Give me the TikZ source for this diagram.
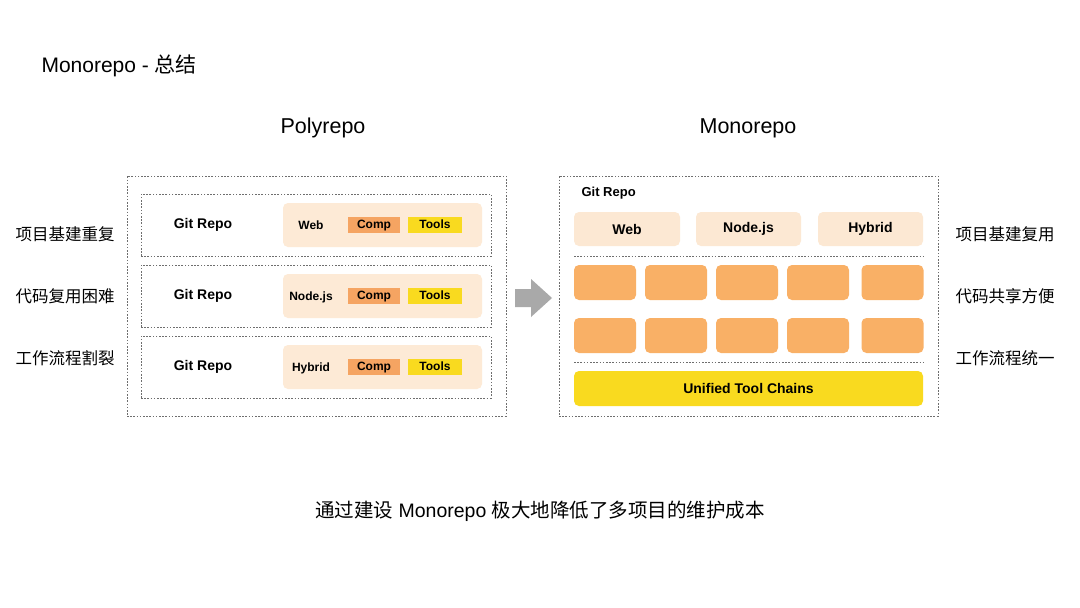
\documentclass[tikz,border=0pt]{standalone}
\usepackage{fontspec}
\setmainfont{Liberation Sans}
\newfontfamily\cjk{Noto Sans CJK SC}
\definecolor{peach}{HTML}{FDEAD6}
\definecolor{lightpeach}{HTML}{FCE8D3}
\definecolor{orng}{HTML}{F9B066}
\definecolor{comp}{HTML}{F5A462}
\definecolor{ylw}{HTML}{F9DA1F}
\definecolor{dotc}{HTML}{6E6E6E}
\definecolor{arrowc}{HTML}{A9A9A9}
\tikzset{
  dotbox/.style={draw=dotc, line width=0.9pt, dash pattern=on 1.6pt off 1.6pt},
  dotline/.style={draw=dotc, line width=0.9pt, dash pattern=on 1.6pt off 1.6pt},
  peachbox/.style={fill=peach, rounded corners=5pt, draw=none},
  tagbox/.style={minimum height=16pt, inner sep=0pt, text height=8.8pt, text depth=2.6pt, font=\fontsize{12}{12}\selectfont\bfseries},
  repolabel/.style={font=\fontsize{14}{14}\selectfont\bfseries},
  sidelabel/.style={font=\fontsize{16.5}{16.5}\selectfont\cjk, anchor=west},
  heading/.style={font=\fontsize{21.5}{21.5}\selectfont},
  orngbox/.style={fill=orng, rounded corners=5pt, minimum width=62pt, minimum height=35pt, inner sep=0pt},
  topbox/.style={fill=lightpeach, rounded corners=5pt, minimum width=106pt, minimum height=34pt, inner sep=0pt, font=\fontsize{14}{14}\selectfont\bfseries},
}
\begin{document}
\begin{tikzpicture}[x=1pt, y=-1pt]
\useasboundingbox (0,0) rectangle (1080,608);
\fill[white] (0,0) rectangle (1080,608);

% Title
\node[anchor=west, font=\fontsize{21}{21}\selectfont] (title) at (38,66) {Monorepo - {\cjk 总结}};
\node[heading] (polyt) at (323,128) {Polyrepo};
\node[heading] (monot) at (748,128) {Monorepo};

% Left outer
\node[dotbox, minimum width=379pt, minimum height=240pt, inner sep=0pt] (louter) at (316.5,296) {};
% inner repos
\foreach \i/\y/\nm in {1/225/Web, 2/296/Node.js, 3/367/Hybrid} {
  \node[dotbox, minimum width=350pt, minimum height=62pt, inner sep=0pt] (repo\i) at (316,\y) {};
  \node[repolabel] (gr\i) at (203,\y) {Git Repo};
  \node[peachbox, minimum width=199pt, minimum height=44pt, inner sep=0pt] (pk\i) at (382.5,\y) {};
  \node[tagbox] (nm\i) at (311,\y+1) {\nm};
  \node[tagbox, fill=comp, minimum width=52pt] (cp\i) at (374,\y) {Comp};
  \node[tagbox, fill=ylw, minimum width=54pt] (tl\i) at (435,\y) {Tools};
}

% Left side labels
\node[sidelabel] (l1) at (12,234) {项目基建重复};
\node[sidelabel] (l2) at (12,296) {代码复用困难};
\node[sidelabel] (l3) at (12,358) {工作流程割裂};

% Arrow
\coordinate (arr) at (533.5,298);
\fill[arrowc] (515,289) -- (531,289) -- (531,279) -- (552,298) -- (531,317) -- (531,307) -- (515,307) -- cycle;

% Right outer
\node[dotbox, minimum width=379pt, minimum height=240pt, inner sep=0pt] (router) at (748.5,296) {};
\node[anchor=west, font=\fontsize{13}{13}\selectfont\bfseries] (rgit) at (578,193) {Git Repo};
\node[topbox] (tweb) at (627,229) {Web};
\node[topbox, minimum width=105pt] (tnode) at (748.5,229) {Node.js};
\node[topbox, minimum width=105pt] (thyb) at (870.5,229) {Hybrid};

\coordinate (d1a) at (574,256);
\coordinate (d1b) at (923,256);
\draw[dotline] (d1a) -- (d1b);

\foreach \x [count=\j] in {605,676,747,818,892.5} {
  \node[orngbox] (ra\j) at (\x,282.5) {};
  \node[orngbox] (rb\j) at (\x,335.5) {};
}

\coordinate (d2a) at (574,362);
\coordinate (d2b) at (923,362);
\draw[dotline] (d2a) -- (d2b);

\node[fill=ylw, rounded corners=5pt, minimum width=349pt, minimum height=35pt, inner sep=0pt,
      font=\fontsize{14}{14}\selectfont\bfseries] (utc) at (748.5,388.5) {Unified Tool Chains};

% Right side labels
\node[sidelabel] (r1) at (952,234) {项目基建复用};
\node[sidelabel] (r2) at (952,296) {代码共享方便};
\node[sidelabel] (r3) at (952,358) {工作流程统一};

% Bottom
\node[font=\fontsize{19.5}{19.5}\selectfont] (bottom) at (540,511) {{\cjk 通过建设} Monorepo {\cjk 极大地降低了多项目的维护成本}};
\end{tikzpicture}
\end{document}
